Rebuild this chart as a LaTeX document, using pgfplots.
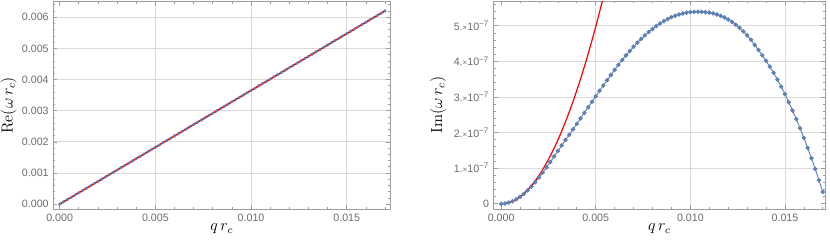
\documentclass[border=0pt]{standalone}
\usepackage{fontspec}
\setsansfont{Liberation Sans}
\usepackage{pgfplots}
\pgfplotsset{compat=1.18}
\definecolor{mblue}{rgb}{0.368417,0.506779,0.709798}
\definecolor{framegray}{gray}{0.62}
\definecolor{labgray}{gray}{0.42}
\definecolor{gridgray}{gray}{0.86}
\pgfplotsset{mma/.style={
  scale only axis,
  scaled x ticks=false, scaled y ticks=false,
  axis line style={framegray, line width=0.6pt},
  tick style={framegray, line width=0.5pt},
  major tick length=3pt, minor tick length=1.6pt,
  tick align=inside,
  tick pos=both,
  xticklabel pos=lower, yticklabel pos=left,
  ticklabel style={font=\sffamily\fontsize{8}{9}\selectfont, text=labgray},
  /pgf/number format/assume math mode=true,
  grid=major, major grid style={gridgray, line width=0.6pt},
  extra tick style={grid=none},
  label style={font=\fontsize{12}{14}\selectfont},
  xtick={0.005,0.01,0.015}, xticklabels={0.005,0.010,0.015},
  extra x ticks={0}, extra x tick labels={0.000},
  minor xtick={0.001,0.002,0.003,0.004,0.006,0.007,0.008,0.009,0.011,0.012,0.013,0.014,0.016,0.017},
  xlabel={$q\,r_c$},
  xlabel style={at={(axis description cs:0.5,-0.095)}, anchor=center},
}}
\begin{document}
\begin{tikzpicture}
\useasboundingbox (0,0) rectangle (622.5pt,185.25pt);
% ---------------- left panel ----------------
\begin{axis}[mma,
  at={(40pt,28.4pt)}, anchor=south west,
  width=252.5pt, height=155.6pt,
  xmin=-0.00033, xmax=0.01726,
  ymin=-0.00016, ymax=0.0065,
  ytick={0.001,0.002,0.003,0.004,0.005,0.006},
  yticklabels={0.001,0.002,0.003,0.004,0.005,0.006},
  extra y ticks={0}, extra y tick labels={0.000},
  minor ytick={0.0002,0.0004,0.0006,0.0008,0.0012,0.0014,0.0016,0.0018,0.0022,0.0024,0.0026,0.0028,0.0032,0.0034,0.0036,0.0038,0.0042,0.0044,0.0046,0.0048,0.0052,0.0054,0.0056,0.0058,0.0062,0.0064},
  ylabel={$\mathrm{Re}(\omega\, r_c)$},
  ylabel style={at={(axis description cs:-0.133,0.5)}, anchor=center},
]
\addplot[mblue, line width=0.6pt, mark=*, mark size=0.85pt, mark options={draw=none, fill=mblue}] coordinates {
(0,0) (0.0002,0.073e-3) (0.0004,0.146e-3) (0.0006,0.219e-3) (0.0008,0.292e-3)
(0.0010,0.365e-3) (0.0012,0.438e-3) (0.0014,0.511e-3) (0.0016,0.584e-3) (0.0018,0.657e-3)
(0.0020,0.730e-3) (0.0022,0.803e-3) (0.0024,0.876e-3) (0.0026,0.949e-3) (0.0028,1.022e-3)
(0.0030,1.095e-3) (0.0032,1.168e-3) (0.0034,1.241e-3) (0.0036,1.314e-3) (0.0038,1.387e-3)
(0.0040,1.460e-3) (0.0042,1.533e-3) (0.0044,1.606e-3) (0.0046,1.679e-3) (0.0048,1.752e-3)
(0.0050,1.825e-3) (0.0052,1.898e-3) (0.0054,1.971e-3) (0.0056,2.044e-3) (0.0058,2.117e-3)
(0.0060,2.190e-3) (0.0062,2.263e-3) (0.0064,2.336e-3) (0.0066,2.409e-3) (0.0068,2.482e-3)
(0.0070,2.555e-3) (0.0072,2.628e-3) (0.0074,2.701e-3) (0.0076,2.774e-3) (0.0078,2.847e-3)
(0.0080,2.920e-3) (0.0082,2.993e-3) (0.0084,3.066e-3) (0.0086,3.139e-3) (0.0088,3.212e-3)
(0.0090,3.285e-3) (0.0092,3.358e-3) (0.0094,3.431e-3) (0.0096,3.504e-3) (0.0098,3.577e-3)
(0.0100,3.650e-3) (0.0102,3.723e-3) (0.0104,3.796e-3) (0.0106,3.869e-3) (0.0108,3.942e-3)
(0.0110,4.015e-3) (0.0112,4.088e-3) (0.0114,4.161e-3) (0.0116,4.234e-3) (0.0118,4.307e-3)
(0.0120,4.380e-3) (0.0122,4.453e-3) (0.0124,4.526e-3) (0.0126,4.599e-3) (0.0128,4.672e-3)
(0.0130,4.745e-3) (0.0132,4.818e-3) (0.0134,4.891e-3) (0.0136,4.964e-3) (0.0138,5.037e-3)
(0.0140,5.110e-3) (0.0142,5.183e-3) (0.0144,5.256e-3) (0.0146,5.329e-3) (0.0148,5.402e-3)
(0.0150,5.475e-3) (0.0152,5.548e-3) (0.0154,5.621e-3) (0.0156,5.694e-3) (0.0158,5.767e-3)
(0.0160,5.840e-3) (0.0162,5.913e-3) (0.0164,5.986e-3) (0.0166,6.059e-3) (0.0168,6.132e-3)
(0.0170,6.205e-3)
};
\addplot[red, line width=1.2pt] coordinates {(0,0) (0.017,6.205e-3)};
\end{axis}
% ---------------- right panel ----------------
\begin{axis}[mma,
  at={(370.3pt,28.4pt)}, anchor=south west,
  width=248.5pt, height=156.0pt,
  xmin=-0.00039, xmax=0.01712,
  ymin=-0.15e-7, ymax=5.69e-7,
  ytick={1e-7,2e-7,3e-7,4e-7,5e-7},
  yticklabels={1.{\fontsize{6}{7}\selectfont×}10\textsuperscript{−7},2.{\fontsize{6}{7}\selectfont×}10\textsuperscript{−7},3.{\fontsize{6}{7}\selectfont×}10\textsuperscript{−7},4.{\fontsize{6}{7}\selectfont×}10\textsuperscript{−7},5.{\fontsize{6}{7}\selectfont×}10\textsuperscript{−7}},
  extra y ticks={0}, extra y tick labels={0},
  minor ytick={0.2e-7,0.4e-7,0.6e-7,0.8e-7,1.2e-7,1.4e-7,1.6e-7,1.8e-7,2.2e-7,2.4e-7,2.6e-7,2.8e-7,3.2e-7,3.4e-7,3.6e-7,3.8e-7,4.2e-7,4.4e-7,4.6e-7,4.8e-7,5.2e-7,5.4e-7,5.6e-7},
  ylabel={$\mathrm{Im}(\omega\, r_c)$},
  ylabel style={at={(axis description cs:-0.168,0.5)}, anchor=center},
]
\addplot[mblue, line width=0.7pt, mark=*, mark size=1.3pt, mark options={draw=none, fill=mblue}] coordinates {
(0,0) (0.0002,0.008e-7) (0.0004,0.032e-7) (0.0006,0.072e-7) (0.0008,0.127e-7)
(0.0010,0.196e-7) (0.0012,0.280e-7) (0.0014,0.377e-7) (0.0016,0.486e-7) (0.0018,0.607e-7)
(0.0020,0.738e-7) (0.0022,0.878e-7) (0.0024,1.023e-7) (0.0026,1.174e-7) (0.0028,1.328e-7)
(0.0030,1.484e-7) (0.0032,1.639e-7) (0.0034,1.791e-7) (0.0036,1.937e-7) (0.0038,2.090e-7)
(0.0040,2.245e-7) (0.0042,2.400e-7) (0.0044,2.555e-7) (0.0046,2.710e-7) (0.0048,2.865e-7)
(0.0050,3.020e-7) (0.0052,3.172e-7) (0.0054,3.322e-7) (0.0056,3.470e-7) (0.0058,3.616e-7)
(0.0060,3.760e-7) (0.0062,3.901e-7) (0.0064,4.037e-7) (0.0066,4.167e-7) (0.0068,4.291e-7)
(0.0070,4.409e-7) (0.0072,4.522e-7) (0.0074,4.629e-7) (0.0076,4.729e-7) (0.0078,4.823e-7)
(0.0080,4.910e-7) (0.0082,4.990e-7) (0.0084,5.063e-7) (0.0086,5.129e-7) (0.0088,5.188e-7)
(0.0090,5.240e-7) (0.0092,5.281e-7) (0.0094,5.316e-7) (0.0096,5.344e-7) (0.0098,5.366e-7)
(0.0100,5.381e-7) (0.0102,5.390e-7) (0.0104,5.392e-7) (0.0106,5.389e-7) (0.0108,5.381e-7)
(0.0110,5.368e-7) (0.0112,5.346e-7) (0.0114,5.316e-7) (0.0116,5.278e-7) (0.0118,5.232e-7)
(0.0120,5.174e-7) (0.0122,5.107e-7) (0.0124,5.029e-7) (0.0126,4.940e-7) (0.0128,4.840e-7)
(0.0130,4.730e-7) (0.0132,4.606e-7) (0.0134,4.460e-7) (0.0136,4.320e-7) (0.0138,4.170e-7)
(0.0140,4.015e-7) (0.0142,3.850e-7) (0.0144,3.676e-7) (0.0146,3.488e-7) (0.0148,3.290e-7)
(0.0150,3.080e-7) (0.0152,2.854e-7) (0.0154,2.620e-7) (0.0156,2.376e-7) (0.0158,2.120e-7)
(0.0160,1.850e-7) (0.0162,1.570e-7) (0.0164,1.278e-7) (0.0166,0.975e-7) (0.0168,0.660e-7)
(0.0170,0.330e-7)
};
\addplot[red, line width=0.9pt, smooth] coordinates {
(0,0) (0.0002,0.00796e-7) (0.0004,0.0318e-7) (0.0006,0.0716e-7) (0.0008,0.1274e-7)
(0.0010,0.199e-7) (0.0012,0.2866e-7) (0.0014,0.390e-7) (0.0016,0.5094e-7) (0.0018,0.6448e-7)
(0.0020,0.796e-7) (0.0022,0.9632e-7) (0.0024,1.1462e-7) (0.0026,1.3452e-7) (0.0028,1.5602e-7)
(0.0030,1.791e-7) (0.0032,2.0378e-7) (0.0034,2.3004e-7) (0.0036,2.579e-7) (0.0038,2.8736e-7)
(0.0040,3.184e-7) (0.0042,3.5104e-7) (0.0044,3.8526e-7) (0.0046,4.2108e-7) (0.0048,4.585e-7)
(0.0050,4.975e-7) (0.0052,5.381e-7) (0.0054,5.803e-7)
};
\end{axis}
\end{tikzpicture}
\end{document}
